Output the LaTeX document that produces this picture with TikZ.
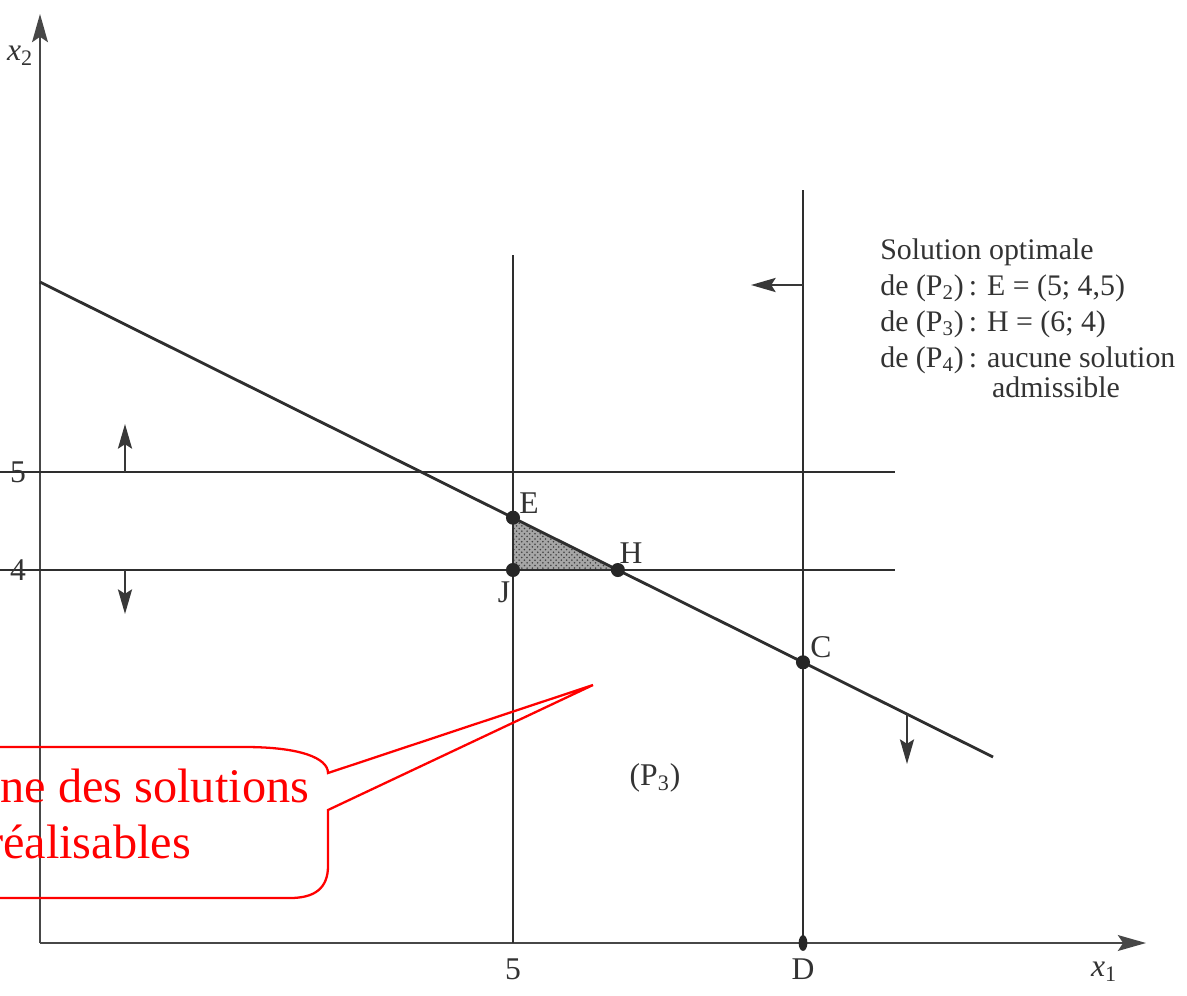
\documentclass[tikz,border=0pt]{standalone}
\usepackage{fontspec}
\setmainfont{Liberation Serif}
\usetikzlibrary{arrows.meta,patterns,shapes.geometric}
\begin{document}
\begin{tikzpicture}[x=0.02cm,y=-0.02cm,
  ln/.style={line width=1.6pt, draw=black!82},
  axl/.style={line width=1.2pt, draw=black!72, -{Stealth[length=16pt,width=9pt,inset=3pt]}},
  sarrow/.style={line width=1.4pt, draw=black!78, -{Stealth[length=14pt,width=8pt,inset=2.5pt]}},
  pt/.style={circle, fill=black!85, inner sep=0pt, minimum size=8pt},
  lbl/.style={font=\fontsize{18}{21}\selectfont, text=black!80, inner sep=1pt},
  info/.style={font=\fontsize{17}{20.5}\selectfont, text=black!80, align=left, anchor=north west, inner sep=0pt},
  callout/.style={draw=red, line width=1.3pt},
  redtxt/.style={font=\fontsize{27.5}{32}\selectfont, text=red, anchor=base, inner sep=0pt}
]
\useasboundingbox (0,0) rectangle (1187,995);
\clip (0,0) rectangle (1187,995);

% axes
\coordinate (O) at (40,943);
\coordinate (Xend) at (1146,943);
\coordinate (Yend) at (40,14);
\draw[axl] (O) -- (Xend);
\draw[axl] (O) -- (Yend);

% lines
\coordinate (L5a) at (0,472);   \coordinate (L5b) at (895,472);
\coordinate (L4a) at (0,570);   \coordinate (L4b) at (895,570);
\coordinate (V5a) at (513,255); \coordinate (V5b) at (513,943);
\coordinate (V8a) at (803,190); \coordinate (V8b) at (803,943);
\coordinate (Da) at (40,282);   \coordinate (Db) at (993,757);

% points
\coordinate (E) at (513,517.7);
\coordinate (J) at (513,570);
\coordinate (H) at (617.9,570);
\coordinate (C) at (803,662.3);
\coordinate (D) at (803,943);

% shaded triangle
\fill[black!35] (E) -- (J) -- (H) -- cycle;
\fill[pattern=crosshatch dots, pattern color=black!75] (E) -- (J) -- (H) -- cycle;

\draw[ln] (L5a) -- (L5b);
\draw[ln] (L4a) -- (L4b);
\draw[ln] (V5a) -- (V5b);
\draw[ln] (V8a) -- (V8b);
\draw[ln] (Da) -- (Db);

% direction arrows
\coordinate (A1s) at (125,472); \coordinate (A1e) at (125,424);
\coordinate (A2s) at (125,570); \coordinate (A2e) at (125,614);
\coordinate (A3s) at (803,285); \coordinate (A3e) at (751,285);
\coordinate (A4s) at (907,714); \coordinate (A4e) at (907,764);
\draw[sarrow] (A1s) -- (A1e);
\draw[sarrow] (A2s) -- (A2e);
\draw[sarrow] (A3s) -- (A3e);
\draw[sarrow] (A4s) -- (A4e);

% dots
\node[pt] (pE) at (E) {};
\node[pt] (pJ) at (J) {};
\node[pt] (pH) at (H) {};
\node[pt] (pC) at (C) {};
\node[ellipse, fill=black!85, inner sep=0pt, minimum width=5pt, minimum height=9pt] (pD) at (D) {};

% labels
\node[lbl] (tE) at (529,503) {E};
\node[lbl] (tJ) at (504,592) {J};
\node[lbl] (tH) at (631,553) {H};
\node[lbl] (tC) at (821,647) {C};
\node[lbl] (tD) at (803,969) {D};
\node[lbl] (t5x) at (513,969) {5};
\node[lbl] (t5y) at (18,472) {5};
\node[lbl] (t4y) at (18,570) {4};
\node[lbl] (tx1) at (1104,972) {\textit{x}\textsubscript{1}};
\node[lbl] (tx2) at (20,56) {\textit{x}\textsubscript{2}};
\node[lbl] (tP3) at (655,778) {(P\textsubscript{3})};

% info block
\node[info] (info) at (880,238) {Solution optimale\\
de (P\textsubscript{2})\,: E = (5; 4,5)\\
de (P\textsubscript{3})\,: H = (6; 4)\\
de (P\textsubscript{4})\,: aucune solution\\[-3pt]
\phantom{de (P\textsubscript{4})\,: }\,admissible};

% red callout
\coordinate (tip) at (593,685);
\draw[callout] (-170,747) -- (245,747) .. controls (300,747) and (328,758) .. (328,773)
  -- (tip) -- (328,810) -- (328,866) .. controls (328,888) and (315,898) .. (290,898) -- (-170,898);
\node[redtxt] (r1) at (89,802) {Domaine des solutions};
\node[redtxt] (r2) at (89,858) {réalisables};
\end{tikzpicture}
\end{document}
